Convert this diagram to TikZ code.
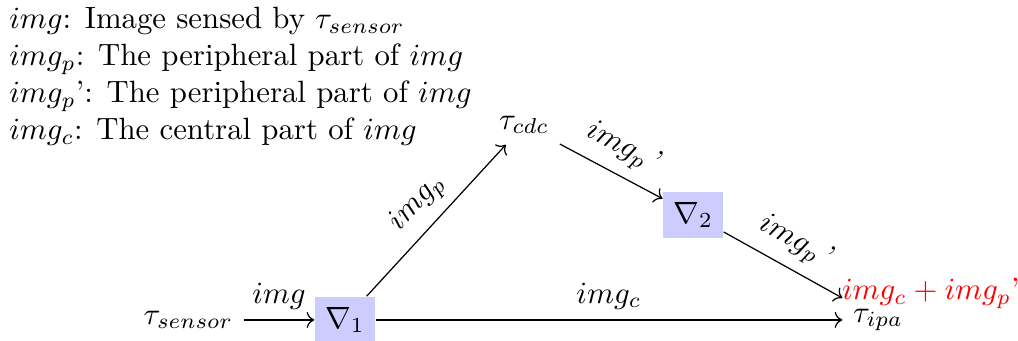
\documentclass[tikz,border=0pt]{standalone}
\usepackage{amsmath, amssymb}
\usepackage{tikz}
\usetikzlibrary{positioning, arrows.meta}

\tikzset{
    gradbox/.style={fill=blue!20},
    flowlabel/.style={above, sloped}
}

\begin{document}
\begin{tikzpicture}[->, x=0.951cm, y=0.951cm]
                    \useasboundingbox (0,0) rectangle (12.22,4.09);
                    % Legend
                    \node[anchor=north west, align=left, inner sep=2pt] (legend) at (0.03,4.08)
                        {$img$: Image sensed by $\tau_{sensor}$\\
                         $img_p$: The peripheral part of $img$\\
                         $img_p$': The peripheral part of $img$\\
                         $img_c$: The central part of $img$};
                    % Tasks and gradients
                    \node (sensor) at (2.26,0.25) {$\tau_{sensor}$};
                    \node[gradbox] (grad1) at (4.14,0.25) {$\nabla_1$};
                    \node (cdc) at (6.29,2.59) {$\tau_{cdc}$};
                    \node[gradbox] (grad2) at (8.32,1.51) {$\nabla_2$};
                    \node (ipa) at (10.54,0.25) {$\tau_{ipa}$};
                    % Merged output
                    \node[red, anchor=base west, inner sep=0pt] (sum) at (10.10,0.49) {$img_c+img_p$'};
                    % Flows
                    \draw (sensor) -- node[flowlabel] {$img$} (grad1);
                    \draw (grad1) -- node[flowlabel] {$img_c$} (ipa);
                    \draw (grad1) -- node[flowlabel] {$img_p$} (cdc);
                    \draw (cdc) -- node[flowlabel] {$img_p$\,'} (grad2);
                    \draw (grad2) -- node[flowlabel] {$img_p$\,'} (ipa.north west);

                \end{tikzpicture}
\end{document}
